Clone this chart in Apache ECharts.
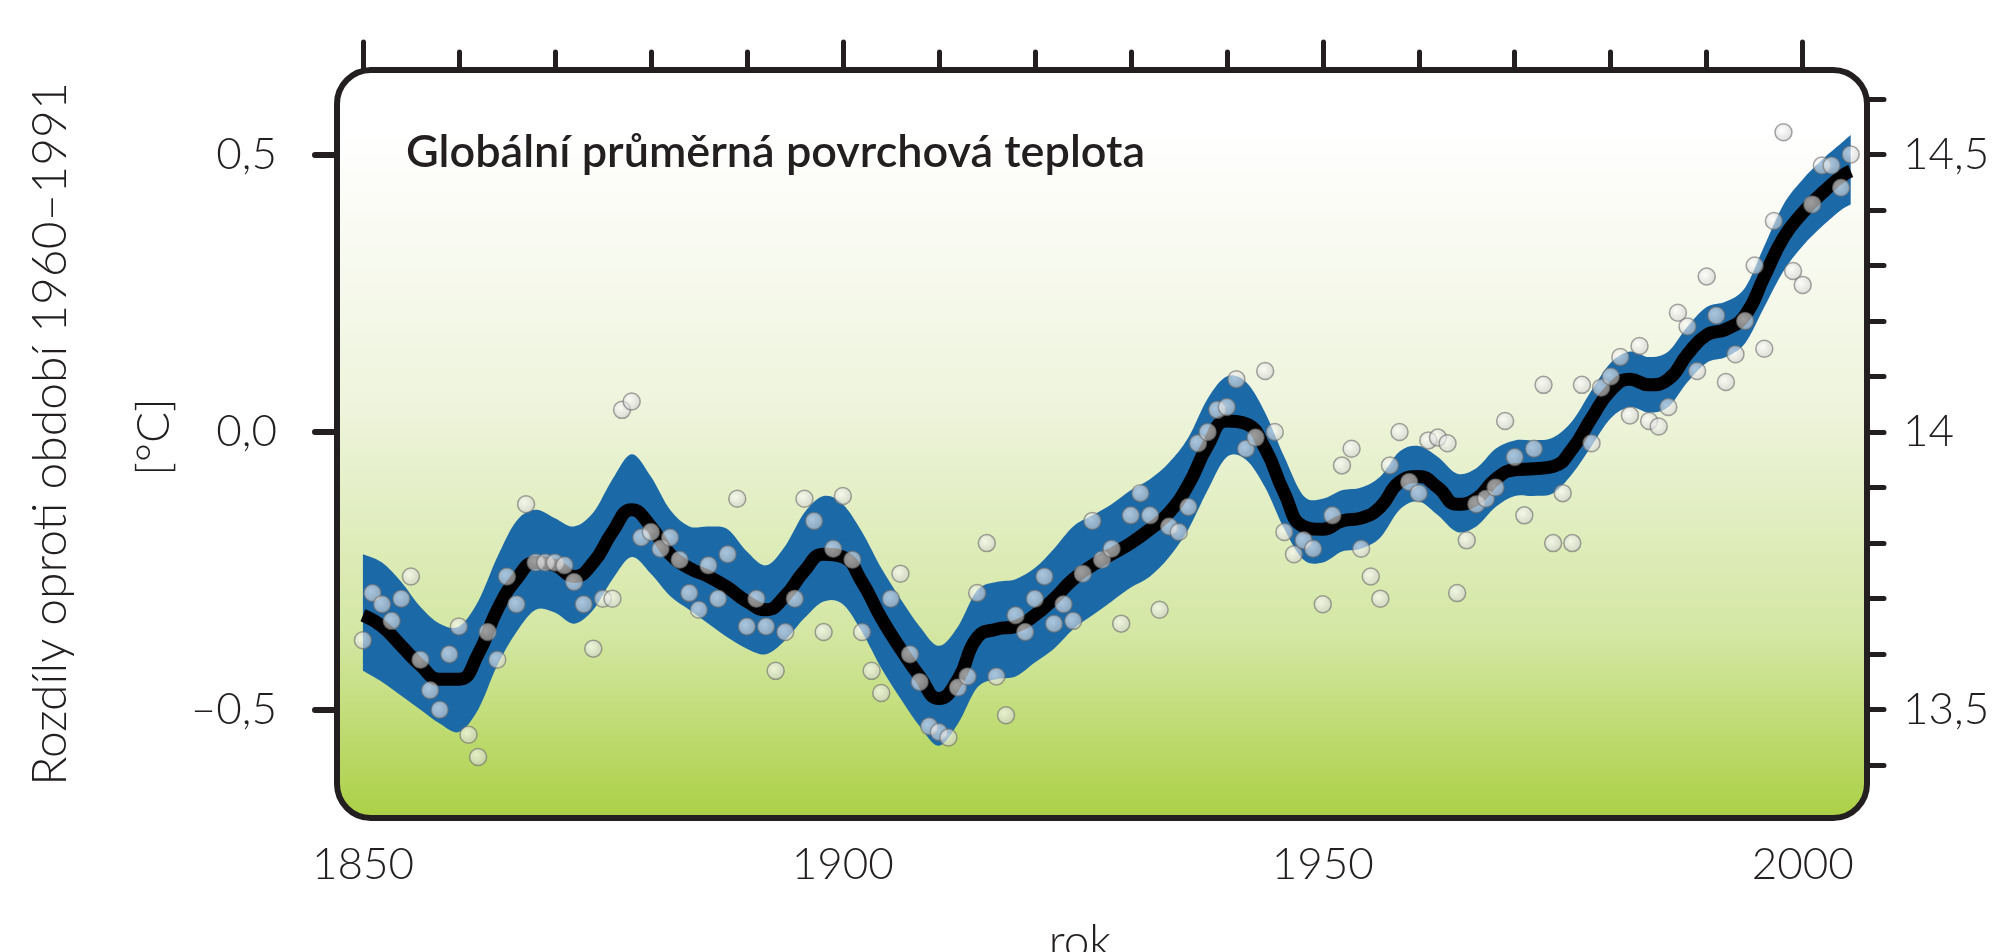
<!DOCTYPE html>
<html><head><meta charset="utf-8">
<script src="https://cdn.jsdelivr.net/npm/echarts@6/dist/echarts.min.js"></script>
<style>html,body{margin:0;padding:0;background:#fff}#c{width:2016px;height:952px}</style>
</head><body><div id="c"></div>
<script>
// ---- data ----
const firstYear = 1850;
const annualAnomaly = [
  -0.375,-0.29,-0.31,-0.34,-0.30,-0.26,-0.41,-0.465,-0.50,-0.40,
  -0.35,-0.545,-0.585,-0.36,-0.41,-0.26,-0.31,-0.13,-0.235,-0.235,
  -0.235,-0.24,-0.27,-0.31,-0.39,-0.30,-0.30,0.04,0.055,-0.19,
  -0.18,-0.21,-0.19,-0.23,-0.29,-0.32,-0.24,-0.30,-0.22,-0.12,
  -0.35,-0.30,-0.35,-0.43,-0.36,-0.30,-0.12,-0.16,-0.36,-0.21,
  -0.115,-0.23,-0.36,-0.43,-0.47,-0.30,-0.255,-0.40,-0.45,-0.53,
  -0.54,-0.55,-0.46,-0.44,-0.29,-0.20,-0.44,-0.51,-0.33,-0.36,
  -0.30,-0.26,-0.345,-0.31,-0.34,-0.255,-0.16,-0.23,-0.21,-0.345,
  -0.15,-0.11,-0.15,-0.32,-0.17,-0.18,-0.135,-0.02,0.00,0.04,
  0.045,0.095,-0.03,-0.01,0.11,0.00,-0.18,-0.22,-0.195,-0.21,
  -0.31,-0.15,-0.06,-0.03,-0.21,-0.26,-0.30,-0.06,0.00,-0.09,
  -0.11,-0.015,-0.01,-0.02,-0.29,-0.195,-0.13,-0.12,-0.10,0.02,
  -0.045,-0.15,-0.03,0.085,-0.20,-0.11,-0.20,0.085,-0.02,0.08,
  0.10,0.135,0.03,0.155,0.02,0.01,0.045,0.215,0.19,0.11,
  0.28,0.21,0.09,0.14,0.20,0.30,0.15,0.38,0.54,0.29,
  0.265,0.41,0.48,0.48,0.44,0.50
];
const smoothYears = [
  1850,1852,1854,1856,1858,1860,1862,1864,1866,1868,
  1870,1872,1874,1876,1878,1880,1882,1884,1886,1888,
  1890,1892,1894,1896,1898,1900,1902,1904,1906,1908,
  1910,1912,1914,1916,1918,1920,1922,1924,1926,1928,
  1930,1932,1934,1936,1938,1940,1942,1944,1946,1948,
  1950,1952,1954,1956,1958,1960,1962,1964,1966,1968,
  1970,1972,1974,1976,1978,1980,1982,1984,1986,1988,
  1990,1992,1994,1996,1998,2000,2002,2004,2005
];
const smoothAnomaly = [
  -0.33,-0.35,-0.385,-0.42,-0.445,-0.445,-0.40,-0.32,-0.265,-0.235,
  -0.24,-0.26,-0.235,-0.18,-0.14,-0.17,-0.22,-0.245,-0.26,-0.28,
  -0.305,-0.32,-0.295,-0.25,-0.22,-0.225,-0.27,-0.335,-0.39,-0.44,
  -0.48,-0.445,-0.37,-0.355,-0.35,-0.33,-0.30,-0.265,-0.24,-0.22,
  -0.20,-0.175,-0.145,-0.095,-0.025,0.02,0.015,-0.03,-0.11,-0.17,
  -0.175,-0.16,-0.155,-0.135,-0.09,-0.08,-0.10,-0.13,-0.12,-0.085,
  -0.068,-0.066,-0.062,-0.03,0.025,0.075,0.095,0.085,0.095,0.14,
  0.175,0.185,0.21,0.28,0.35,0.395,0.43,0.46,0.47
];
const bandUpper = [
  -0.22,-0.235,-0.27,-0.315,-0.345,-0.35,-0.305,-0.225,-0.16,-0.14,
  -0.155,-0.17,-0.145,-0.085,-0.04,-0.08,-0.14,-0.17,-0.17,-0.175,
  -0.215,-0.24,-0.205,-0.145,-0.115,-0.13,-0.18,-0.245,-0.30,-0.35,
  -0.385,-0.35,-0.285,-0.27,-0.265,-0.245,-0.21,-0.17,-0.15,-0.13,
  -0.105,-0.085,-0.055,-0.01,0.06,0.10,0.09,0.035,-0.045,-0.115,
  -0.12,-0.105,-0.10,-0.08,-0.035,-0.025,-0.045,-0.075,-0.065,-0.03,
  -0.015,-0.015,-0.01,0.02,0.075,0.125,0.145,0.135,0.145,0.19,
  0.225,0.235,0.26,0.335,0.41,0.455,0.49,0.52,0.535
];
const bandLower = [
  -0.43,-0.45,-0.475,-0.50,-0.525,-0.54,-0.50,-0.42,-0.36,-0.32,
  -0.325,-0.345,-0.32,-0.265,-0.225,-0.255,-0.295,-0.32,-0.345,-0.37,
  -0.39,-0.40,-0.375,-0.335,-0.305,-0.31,-0.36,-0.425,-0.48,-0.53,
  -0.565,-0.525,-0.46,-0.445,-0.44,-0.415,-0.39,-0.355,-0.33,-0.305,
  -0.28,-0.26,-0.225,-0.175,-0.105,-0.045,-0.05,-0.10,-0.175,-0.23,
  -0.235,-0.215,-0.21,-0.19,-0.14,-0.125,-0.15,-0.18,-0.17,-0.135,
  -0.115,-0.115,-0.11,-0.075,-0.025,0.025,0.045,0.035,0.045,0.09,
  0.125,0.135,0.16,0.225,0.29,0.335,0.37,0.40,0.41
];
const bottomLabelYears = [1850, 1900, 1950, 2000];
const topTickYears = [1850,1860,1870,1880,1890,1900,1910,1920,1930,1940,1950,1960,1970,1980,1990,2000];
const topMajorTickYears = [1850, 1900, 1950, 2000];
const leftTickValues = [-0.5, 0, 0.5];
const leftTickLabels = ['–0,5', '0,0', '0,5'];
const rightTickValues = [13.4,13.5,13.6,13.7,13.8,13.9,14.0,14.1,14.2,14.3,14.4,14.5,14.6];
const rightLabelValues = [13.5, 14, 14.5];
const rightLabelTexts = ['13,5', '14', '14,5'];
const absoluteBase = 14; // right axis = anomaly + 14 °C
const xRange = [1847.3, 2006.7];
const yRange = [-0.695, 0.652];

const titleText = 'Globální průměrná povrchová teplota';
const yTitle1 = 'Rozdíly oproti období 1960–1991';
const yTitle2 = '[°C]';
const xTitle = 'rok';

// ---- chart ----
const G = {left: 337, top: 70, width: 1530, height: 748};
const ink = '#231f20';
const FONT = 'Lato';
const LIGHT = 300;
const chart = echarts.init(document.getElementById('c'));

const xBase = {type: 'value', min: xRange[0], max: xRange[1], splitLine: {show: false}, axisLine: {show: false}};
const fmtLeft = v => { const i = leftTickValues.findIndex(t => Math.abs(t - v) < 1e-6); return i >= 0 ? leftTickLabels[i] : ''; };
const fmtRight = v => { const i = rightLabelValues.findIndex(t => Math.abs(t - v) < 1e-6); return i >= 0 ? rightLabelTexts[i] : ''; };

// smooth path (Catmull-Rom -> cubic Bezier) through pixel points
function curveCmds(pts) {
  let d = '';
  for (let i = 0; i < pts.length - 1; i++) {
    const p0 = pts[Math.max(0, i - 1)], p1 = pts[i], p2 = pts[i + 1], p3 = pts[Math.min(pts.length - 1, i + 2)];
    const c1 = [p1[0] + (p2[0] - p0[0]) / 6, p1[1] + (p2[1] - p0[1]) / 6];
    const c2 = [p2[0] - (p3[0] - p1[0]) / 6, p2[1] - (p3[1] - p1[1]) / 6];
    d += ' C' + c1[0] + ',' + c1[1] + ' ' + c2[0] + ',' + c2[1] + ' ' + p2[0] + ',' + p2[1];
  }
  return d;
}

chart.setOption({
  animation: false,
  backgroundColor: '#ffffff',
  title: {
    text: titleText, left: 401, top: 125,
    textStyle: {fontFamily: FONT, fontSize: 45, fontWeight: 600, color: ink}
  },
  grid: {left: G.left, top: G.top, width: G.width, height: G.height, show: false, containLabel: false, outerBoundsMode: 'none'},
  xAxis: [
    Object.assign({}, xBase, {
      position: 'bottom',
      axisTick: {show: false},
      axisLabel: {customValues: bottomLabelYears, margin: 25, fontFamily: FONT, fontWeight: LIGHT, fontSize: 44, color: ink, formatter: v => String(v)}
    }),
    Object.assign({}, xBase, {
      position: 'top',
      axisLabel: {show: false},
      axisTick: {show: true, inside: false, length: 18, customValues: topTickYears, lineStyle: {color: ink, width: 5, cap: 'round'}}
    }),
    Object.assign({}, xBase, {
      position: 'top',
      axisLabel: {show: false},
      axisTick: {show: true, inside: false, length: 28, customValues: topMajorTickYears, lineStyle: {color: ink, width: 5, cap: 'round'}}
    })
  ],
  yAxis: [
    {
      type: 'value', position: 'left', min: yRange[0], max: yRange[1],
      splitLine: {show: false}, axisLine: {show: false},
      axisTick: {show: true, length: 22, customValues: leftTickValues, lineStyle: {color: ink, width: 6, cap: 'round'}},
      axisLabel: {customValues: leftTickValues, margin: 60, fontFamily: FONT, fontWeight: LIGHT, fontSize: 44, color: ink, formatter: fmtLeft}
    },
    {
      type: 'value', position: 'right', min: yRange[0] + absoluteBase, max: yRange[1] + absoluteBase,
      splitLine: {show: false}, axisLine: {show: false},
      axisTick: {show: true, length: 17, customValues: rightTickValues, lineStyle: {color: ink, width: 5, cap: 'round'}},
      axisLabel: {customValues: rightLabelValues, margin: 36, fontFamily: FONT, fontWeight: LIGHT, fontSize: 44, color: ink, formatter: fmtRight}
    }
  ],
  graphic: [
    {
      type: 'rect', z: -1, silent: true,
      shape: {x: G.left, y: G.top, width: G.width, height: G.height, r: 34},
      style: {
        fill: new echarts.graphic.LinearGradient(0, 0, 0, 1, [
          {offset: 0, color: '#ffffff'},
          {offset: 0.08, color: '#ffffff'},
          {offset: 0.45, color: '#eef4dc'},
          {offset: 0.75, color: '#d4e7a4'},
          {offset: 1, color: '#abd045'}
        ])
      }
    },
    {
      type: 'rect', z: 100, silent: true,
      shape: {x: G.left, y: G.top, width: G.width, height: G.height, r: 34},
      style: {fill: 'none', stroke: ink, lineWidth: 6}
    },
    {
      type: 'text', x: 51, y: 434, rotation: Math.PI / 2, silent: true,
      style: {text: yTitle1, fontFamily: FONT, fontWeight: LIGHT, fontSize: 48, fill: ink, align: 'center', verticalAlign: 'middle'}
    },
    {
      type: 'text', x: 154, y: 437, rotation: Math.PI / 2, silent: true,
      style: {text: yTitle2, fontFamily: FONT, fontWeight: LIGHT, fontSize: 46, fill: ink, align: 'center', verticalAlign: 'middle'}
    },
    {
      type: 'text', x: 1080, y: 942, silent: true,
      style: {text: xTitle, fontFamily: FONT, fontWeight: LIGHT, fontSize: 46, fill: ink, align: 'center', verticalAlign: 'middle'}
    }
  ],
  series: [
    {
      name: 'band', type: 'custom', z: 2, silent: true, clip: true,
      data: smoothYears.map((y, i) => [y, bandLower[i], bandUpper[i]]),
      encode: {x: 0, y: [1, 2]},
      renderItem: function (params, api) {
        if (params.dataIndex !== 0) return null;
        const up = smoothYears.map((y, i) => api.coord([y, bandUpper[i]]));
        const lo = smoothYears.map((y, i) => api.coord([y, bandLower[i]])).reverse();
        let d = 'M' + up[0][0] + ',' + up[0][1] + curveCmds(up);
        d += ' L' + lo[0][0] + ',' + lo[0][1] + curveCmds(lo) + ' Z';
        return {type: 'path', shape: {pathData: d}, style: {fill: '#1c69a7'}};
      }
    },
    {
      name: 'smooth', type: 'line', smooth: true, symbol: 'none', z: 3,
      lineStyle: {color: '#000000', width: 13},
      data: smoothYears.map((y, i) => [y, smoothAnomaly[i]])
    },
    {
      name: 'annual', type: 'scatter', symbolSize: 17, z: 4,
      itemStyle: {
        color: new echarts.graphic.RadialGradient(0.4, 0.4, 0.65, [
          {offset: 0, color: '#ffffff'}, {offset: 1, color: '#c8c8c8'}
        ]),
        borderColor: '#6e6e6e', borderWidth: 1.5, opacity: 0.62
      },
      data: annualAnomaly.map((v, i) => [firstYear + i, v])
    }
  ]
});
</script>
</body></html>
